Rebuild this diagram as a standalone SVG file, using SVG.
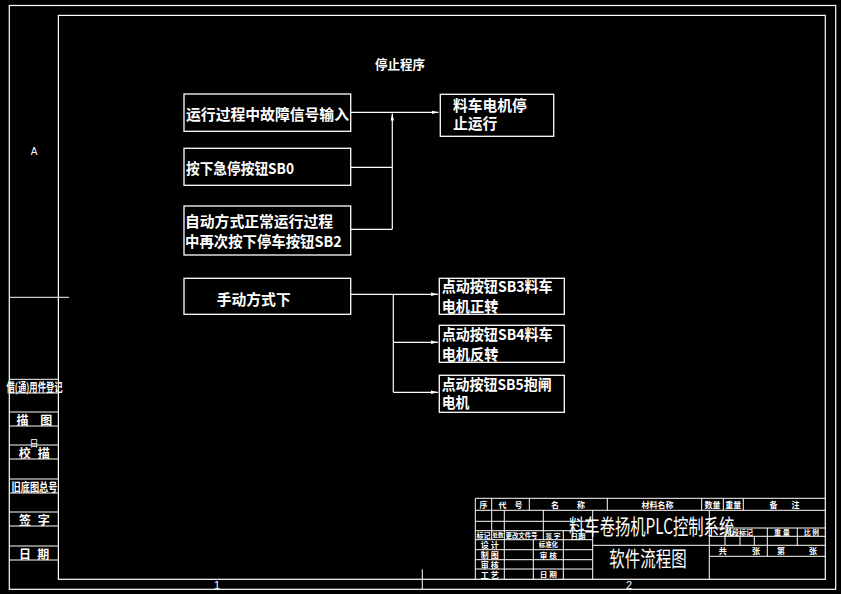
<svg xmlns="http://www.w3.org/2000/svg" width="841" height="594" viewBox="0 0 841 594">
<defs>
<style>
.ln{stroke:#fff;stroke-width:1.2;fill:none}
.thin{stroke:#fff;stroke-width:1;fill:none}
.bx{stroke:#fff;stroke-width:1.3;fill:none}
.t{fill:#fff;font-family:'Noto Sans CJK SC','Noto Sans',sans-serif;font-size:15px;font-weight:bold;dominant-baseline:central}
.s{fill:#fff;font-family:'Noto Sans CJK SC','Noto Sans',sans-serif;font-size:12px;font-weight:bold;dominant-baseline:central;text-anchor:middle}
.xs{fill:#fff;font-family:'Noto Sans CJK SC','Noto Sans',sans-serif;font-size:8px;font-weight:bold;dominant-baseline:central;text-anchor:middle}
.big{fill:#fff;font-family:'Noto Sans CJK SC','Noto Sans',sans-serif;font-size:21px;dominant-baseline:central}
</style>
<marker id="ah" markerWidth="7" markerHeight="4" refX="7" refY="2" orient="auto" markerUnits="userSpaceOnUse"><path d="M0,0.3 L7,2 L0,3.7 z" fill="#fff"/></marker>
</defs>
<rect x="0" y="0" width="841" height="594" fill="#000"/>

<g id="frame">
<rect class="ln" x="9.3" y="5.5" width="826.4" height="583.8"/>
<rect class="ln" x="58.4" y="15.4" width="766.9" height="563.9"/>
<path class="thin" d="M9.3,297.3 H69 M422.3,569.3 V589.3"/>
<path class="thin" d="M9.3,379.3 H58.4 M9.3,393 H58.4 M9.3,412 H58.4 M9.3,426 H58.4 M9.3,445 H58.4 M9.3,459 H58.4 M9.3,479 H58.4 M9.3,493 H58.4 M9.3,512 H58.4 M9.3,526 H58.4 M9.3,546 H58.4 M9.3,560 H58.4"/>
<text x="34" y="151.5" style="fill:#fff;font-family:'Liberation Sans',sans-serif;font-size:10px;text-anchor:middle;dominant-baseline:central">A</text>
<text x="217" y="585" style="fill:#fff;font-family:'Liberation Sans',sans-serif;font-size:11px;text-anchor:middle;dominant-baseline:central">1</text>
<text x="629" y="585" style="fill:#fff;font-family:'Liberation Sans',sans-serif;font-size:11px;text-anchor:middle;dominant-baseline:central">2</text>
<text class="s" x="34.5" y="386" textLength="56" lengthAdjust="spacingAndGlyphs">借(通)用件登记</text>
<text class="s" x="22.5" y="419">描</text><text class="s" x="46.3" y="419">图</text>
<text class="s" x="34" y="443" style="font-size:9px;font-weight:normal">日</text>
<text class="s" x="24.7" y="452">校</text><text class="s" x="43.8" y="452">描</text>
<text class="s" x="34.5" y="486" textLength="46" lengthAdjust="spacingAndGlyphs">旧底图总号</text>
<text class="s" x="25" y="519">签</text><text class="s" x="43.8" y="519">字</text>
<text class="s" x="25" y="553">日</text><text class="s" x="43.2" y="553">期</text>
</g>

<g id="title-block">
<path class="thin" d="M475.3,498.3 H825.3 M475.3,498.3 V579.3 M475.3,510.3 H825.3 M475.3,521.3 H592.7 M475.3,530.7 H592.7 M475.3,539.7 H592.7 M475.3,549.7 H592.7 M475.3,559.7 H592.7 M475.3,569 H592.7"/>
<path class="thin" d="M491.7,498.3 V539.7 M529.3,498.3 V510.3 M607.3,498.3 V510.3 M701.7,498.3 V510.3 M723.3,498.3 V510.3 M743.3,498.3 V510.3 M504.3,510.3 V579.3 M543.3,510.3 V539.7 M563.3,530.7 V579.3 M533.3,539.7 V579.3 M592.7,510.3 V579.3 M709.3,510.3 V579.3"/>
<path class="thin" d="M592.7,545.3 H825.3 M709.3,528 H825.3 M709.3,536.3 H825.3 M709.3,556.3 H825.3 M767.3,528 V556.3 M797.3,528 V545.3 M725,536.3 V545.3 M740,536.3 V545.3 M754.3,536.3 V545.3"/>
<text class="xs" x="483.4" y="504.3">序</text>
<text class="xs" x="510.5" y="504.3" textLength="24" lengthAdjust="spacing">代 号</text>
<text class="xs" x="568" y="504.3" textLength="34" lengthAdjust="spacing">名 称</text>
<text class="xs" x="657.5" y="504.3" textLength="32" lengthAdjust="spacing">材料名称</text>
<text class="xs" x="712.5" y="504.3">数量</text>
<text class="xs" x="733.3" y="504.3">重量</text>
<text class="xs" x="784.5" y="504.3" textLength="30" lengthAdjust="spacing">备 注</text>
<text class="xs" x="483.4" y="535.2" style="font-size:7px" textLength="14" lengthAdjust="spacingAndGlyphs">标记</text>
<text class="xs" x="498" y="535.2" style="font-size:5.5px" textLength="11" lengthAdjust="spacingAndGlyphs">处数</text>
<text class="xs" x="521.5" y="535.2" style="font-size:6.4px" textLength="32" lengthAdjust="spacingAndGlyphs">更改文件号</text>
<text class="xs" x="553" y="535.2" style="font-size:6px" textLength="15" lengthAdjust="spacingAndGlyphs">签 字</text>
<text class="xs" x="578" y="535.6" style="font-size:6.5px" textLength="15" lengthAdjust="spacingAndGlyphs">日期</text>
<text class="xs" x="489.8" y="544.7" textLength="18" lengthAdjust="spacing">设 计</text>
<text class="xs" x="548.3" y="544.7" style="font-size:6.3px" textLength="19" lengthAdjust="spacingAndGlyphs">标准化</text>
<text class="xs" x="489.8" y="554.7" textLength="18" lengthAdjust="spacing">制 图</text>
<text class="xs" x="548.3" y="554.7" style="font-size:7px" textLength="17" lengthAdjust="spacingAndGlyphs">审 核</text>
<text class="xs" x="489.8" y="564.3" textLength="18" lengthAdjust="spacing">审 核</text>
<text class="xs" x="489.8" y="574" textLength="18" lengthAdjust="spacing">工 艺</text>
<text class="xs" x="548.3" y="574" style="font-size:7px" textLength="17" lengthAdjust="spacingAndGlyphs">日 期</text>
<text class="xs" x="739" y="532.2" style="font-size:7px" textLength="28" lengthAdjust="spacingAndGlyphs">阶段标记</text>
<text class="xs" x="782" y="532.2" style="font-size:7px" textLength="16" lengthAdjust="spacingAndGlyphs">重 量</text>
<text class="xs" x="811.5" y="532.2" style="font-size:7px" textLength="15" lengthAdjust="spacingAndGlyphs">比 例</text>
<text class="xs" x="722.7" y="550.8">共</text><text class="xs" x="756" y="550.8">张</text>
<text class="xs" x="781" y="550.8">第</text><text class="xs" x="813" y="550.8">张</text>
<text class="big" transform="translate(569,524.5) scale(0.73,1)" x="0" y="0">料车卷扬机PLC控制系统</text>
<text class="big" transform="translate(609.3,557) scale(0.737,1)" x="0" y="0">软件流程图</text>
</g>

<text id="heading" class="t" x="375" y="63.5" style="font-size:13px" textLength="50" lengthAdjust="spacingAndGlyphs">停止程序</text>

<g id="n-fault">
<rect class="bx" x="184" y="94" width="166.7" height="37.3"/>
<text class="t" x="186" y="113.3" textLength="163" lengthAdjust="spacingAndGlyphs">运行过程中故障信号输入</text>
</g>
<g id="n-estop">
<rect class="bx" x="184" y="148.3" width="166.7" height="37"/>
<text class="t" x="186" y="167.3" textLength="108" lengthAdjust="spacingAndGlyphs">按下急停按钮SB0</text>
</g>
<g id="n-auto">
<rect class="bx" x="184" y="206" width="166.7" height="49"/>
<text class="t" x="185" y="220" textLength="148" lengthAdjust="spacingAndGlyphs">自动方式正常运行过程</text>
<text class="t" x="185" y="240.7" textLength="156.7" lengthAdjust="spacingAndGlyphs">中再次按下停车按钮SB2</text>
</g>
<g id="n-stop">
<rect class="bx" x="440.3" y="94.3" width="113.4" height="42"/>
<text class="t" x="453" y="104" textLength="73.7" lengthAdjust="spacingAndGlyphs">料车电机停</text>
<text class="t" x="453" y="122.7" textLength="44.3" lengthAdjust="spacingAndGlyphs">止运行</text>
</g>
<g id="n-manual">
<rect class="bx" x="184" y="278.3" width="166.7" height="36"/>
<text class="t" x="216.7" y="298.3" textLength="74" lengthAdjust="spacingAndGlyphs">手动方式下</text>
</g>
<g id="n-sb3">
<rect class="bx" x="439.3" y="278.3" width="125" height="36"/>
<text class="t" x="441.7" y="285.7" textLength="111" lengthAdjust="spacingAndGlyphs">点动按钮SB3料车</text>
<text class="t" x="441.7" y="305" textLength="56.7" lengthAdjust="spacingAndGlyphs">电机正转</text>
</g>
<g id="n-sb4">
<rect class="bx" x="439.3" y="325.3" width="125" height="37"/>
<text class="t" x="441.7" y="333.3" textLength="111" lengthAdjust="spacingAndGlyphs">点动按钮SB4料车</text>
<text class="t" x="441.7" y="353.3" textLength="56.7" lengthAdjust="spacingAndGlyphs">电机反转</text>
</g>
<g id="n-sb5">
<rect class="bx" x="439.3" y="375.3" width="125" height="37"/>
<text class="t" x="441.7" y="383.3" textLength="110" lengthAdjust="spacingAndGlyphs">点动按钮SB5抱闸</text>
<text class="t" x="441.7" y="401.7" textLength="27.7" lengthAdjust="spacingAndGlyphs">电机</text>
</g>

<g id="connectors">
<path class="ln" d="M350.7,112.3 H438.5" marker-end="url(#ah)"/>
<path class="ln" d="M392.3,229.3 V113.5" marker-end="url(#ah)"/>
<path class="ln" d="M350.7,167.3 H392.3 M350.7,229.3 H392.3"/>
<path class="ln" d="M350.7,294.3 H438" marker-end="url(#ah)"/>
<path class="ln" d="M393.3,294.3 V392.3"/>
<path class="ln" d="M393.3,342.3 H438" marker-end="url(#ah)"/>
<path class="ln" d="M393.3,392.3 H438" marker-end="url(#ah)"/>
</g>
</svg>
